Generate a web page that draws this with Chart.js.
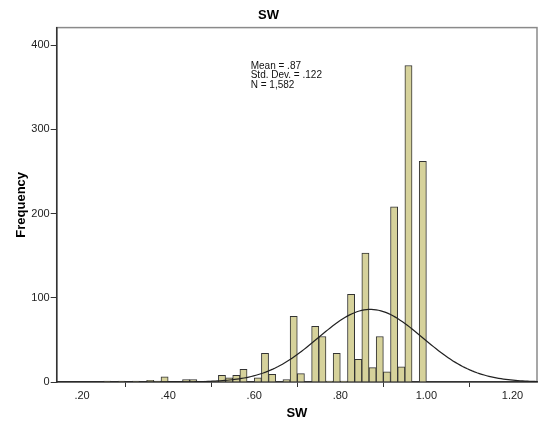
<!DOCTYPE html>
<html lang="en">
<head>
  <meta charset="UTF-8">
  <title>SW</title>
  <script src="https://cdn.jsdelivr.net/npm/chart.js"></script>
  <style>
    body { margin: 0; background: #fff; }
    canvas { display: block; }
  </style>
</head>
<body>
  <canvas id="swChart" width="540" height="426"></canvas>

  <script>
    // histogram bins are 1/60 wide, first one starts at 15/60 = .25
    const binWidth = 1 / 60;
    const firstBin = 15;
    const counts = [
      1, 0, 1, 0, 1, 0, 2, 1, 6, 0,
      0, 3, 3, 0, 1, 1, 8, 5, 8, 15,
      0, 5, 34, 9, 0, 3, 78, 10, 0, 66,
      54, 1, 34, 1, 104, 27, 153, 17, 54, 12,
      208, 18, 376, 0, 262
    ];

    const mean = 0.87;
    const stdDev = 0.122;
    const n = 1582;

    const xTicks = [0.2, 0.4, 0.6, 0.8, 1.0, 1.2];
    const yTicks = [0, 100, 200, 300, 400];
    const xMin = 0.141, xMax = 1.257;
    const yMax = 421;

    const FONT = "'Liberation Sans', Arial, sans-serif";

    const bars = [];
    counts.forEach((c, i) => {
      if (c > 0) bars.push({ x: (firstBin + i + 0.5) * binWidth, y: c });
    });

    // normal curve scaled to the histogram
    const curve = [];
    const steps = 200;
    for (let i = 0; i <= steps; i++) {
      const x = xMin + (xMax - xMin) * i / steps;
      const z = (x - mean) / stdDev;
      const pdf = Math.exp(-0.5 * z * z) / (stdDev * Math.sqrt(2 * Math.PI));
      curve.push({ x: x, y: n * binWidth * pdf });
    }

    function fmtX(v) {
      return v.toFixed(2).replace(/^0/, "");
    }

    const framePlugin = {
      id: "frame",
      beforeDraw(chart) {
        const a = chart.chartArea;
        const ctx = chart.ctx;
        ctx.save();
        ctx.strokeStyle = "#8a8a8a";
        ctx.lineWidth = 1.5;
        ctx.strokeRect(a.left, a.top, a.right - a.left, a.bottom - a.top);
        ctx.restore();
      }
    };

    const statsPlugin = {
      id: "stats",
      afterDraw(chart) {
        const a = chart.chartArea;
        const ctx = chart.ctx;
        const lines = [
          "Mean = " + fmtX(mean),
          "Std. Dev. = " + stdDev.toFixed(3).replace(/^0/, ""),
          "N = " + n.toLocaleString("en-US")
        ];
        ctx.save();
        ctx.fillStyle = "#111";
        ctx.font = "10px " + FONT;
        ctx.textBaseline = "middle";
        lines.forEach((t, i) => ctx.fillText(t, a.left + 194, 66 + i * 9.5));
        ctx.restore();
      }
    };

    const ctx = document.getElementById("swChart").getContext("2d");
    new Chart(ctx, {
      type: "bar",
      data: {
        datasets: [
          {
            type: "line",
            data: curve,
            borderColor: "#222",
            borderWidth: 1.2,
            pointRadius: 0,
            fill: false,
            order: 0
          },
          {
            type: "bar",
            data: bars,
            backgroundColor: "#d6d29b",
            borderColor: "#333",
            borderWidth: 1,
            barPercentage: 1,
            categoryPercentage: 1,
            order: 1
          }
        ]
      },
      options: {
        responsive: false,
        animation: false,
        layout: { padding: { top: 0, right: 3, left: 0, bottom: 0 } },
        plugins: {
          legend: { display: false },
          tooltip: { enabled: false },
          title: {
            display: true,
            text: "SW",
            color: "#000",
            font: { family: FONT, size: 13, weight: "bold" },
            padding: { top: 8, bottom: 4 }
          }
        },
        scales: {
          x: {
            type: "linear",
            min: xMin,
            max: xMax,
            offset: false,
            afterBuildTicks: s => { s.ticks = xTicks.map(v => ({ value: v })); },
            afterFit: s => { s.height = 44; },
            grid: { drawOnChartArea: false, drawTicks: true, tickLength: 5, color: "#333" },
            border: { color: "#333", width: 1.5 },
            ticks: {
              color: "#222",
              font: { family: FONT, size: 11 },
              padding: 2,
              maxRotation: 0,
              autoSkip: false,
              callback: v => fmtX(v)
            },
            title: {
              display: true,
              text: "SW",
              color: "#000",
              font: { family: FONT, size: 13, weight: "bold" },
              padding: { top: 0, bottom: 5 }
            }
          },
          y: {
            min: 0,
            max: yMax,
            afterBuildTicks: s => { s.ticks = yTicks.map(v => ({ value: v })); },
            afterFit: s => { s.width = 56.7; },
            grid: { drawOnChartArea: false, drawTicks: true, tickLength: 6, color: "#333" },
            border: { color: "#333", width: 1.5 },
            ticks: {
              color: "#222",
              font: { family: FONT, size: 11 },
              padding: 1
            },
            title: {
              display: true,
              text: "Frequency",
              color: "#000",
              font: { family: FONT, size: 13, weight: "bold" },
              padding: { top: 14, bottom: 4 }
            }
          }
        }
      },
      plugins: [framePlugin, statsPlugin]
    });
  </script>
</body>
</html>
